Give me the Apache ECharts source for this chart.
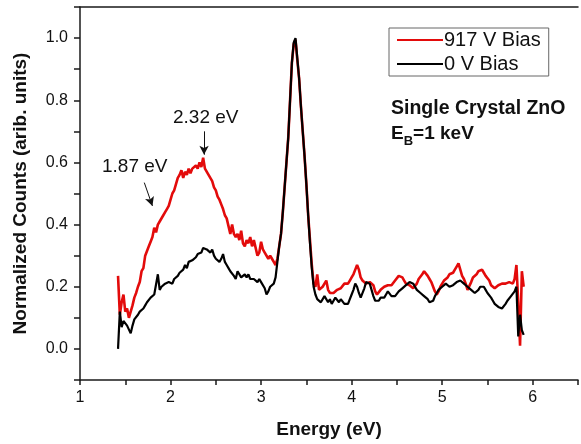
<!DOCTYPE html>
<html>
<head>
<meta charset="utf-8">
<script src="https://cdn.jsdelivr.net/npm/echarts@6/dist/echarts.min.js"></script>
<style>
html,body{margin:0;padding:0;background:#fff;}
#chart{width:581px;height:444px;}
</style>
</head>
<body>
<div id="chart"></div>
<script>
// Energy axis (eV)
const energy = [
1.42,1.44,1.46,1.48,1.50,1.52,1.54,1.56,1.58,1.60,
1.62,1.64,1.66,1.68,1.70,1.72,1.74,1.76,1.78,1.80,
1.82,1.84,1.86,1.88,1.90,1.92,1.94,1.96,1.98,2.00,
2.02,2.04,2.06,2.08,2.10,2.12,2.14,2.16,2.18,2.20,
2.22,2.24,2.26,2.28,2.30,2.32,2.34,2.36,2.38,2.40,
2.42,2.44,2.46,2.48,2.50,2.52,2.54,2.56,2.58,2.60,
2.62,2.64,2.66,2.68,2.70,2.72,2.74,2.76,2.78,2.80,
2.82,2.84,2.86,2.88,2.90,2.92,2.94,2.96,2.98,3.00,
3.02,3.04,3.06,3.08,3.10,3.12,3.14,3.16,3.18,3.20,
3.22,3.24,3.26,3.28,3.30,3.32,3.34,3.36,3.38,3.40,
3.42,3.44,3.46,3.48,3.50,3.52,3.54,3.56,3.58,3.60,
3.62,3.64,3.66,3.68,3.70,3.72,3.74,3.76,3.78,3.80,
3.82,3.84,3.86,3.88,3.90,3.92,3.94,3.96,3.98,4.00,
4.02,4.04,4.06,4.08,4.10,4.12,4.14,4.16,4.18,4.20,
4.22,4.24,4.26,4.28,4.30,4.32,4.34,4.36,4.38,4.40,
4.42,4.44,4.46,4.48,4.50,4.52,4.54,4.56,4.58,4.60,
4.62,4.64,4.66,4.68,4.70,4.72,4.74,4.76,4.78,4.80,
4.82,4.84,4.86,4.88,4.90,4.92,4.94,4.96,4.98,5.00,
5.02,5.04,5.06,5.08,5.10,5.12,5.14,5.16,5.18,5.20,
5.22,5.24,5.26,5.28,5.30,5.32,5.34,5.36,5.38,5.40,
5.42,5.44,5.46,5.48,5.50,5.52,5.54,5.56,5.58,5.60,
5.62,5.64,5.66,5.68,5.70,5.72,5.74,5.76,5.78,5.80,
5.82,5.84,5.86,5.88,5.90
];
// 917 V Bias
const bias917 = [
0.235,0.11,0.15,0.175,0.12,0.13,0.10,0.12,0.14,0.165,
0.18,0.20,0.215,0.25,0.26,0.30,0.30,0.33,0.345,0.36,
0.39,0.375,0.40,0.41,0.405,0.43,0.44,0.45,0.46,0.48,
0.50,0.51,0.53,0.55,0.56,0.575,0.55,0.57,0.56,0.58,
0.565,0.58,0.575,0.59,0.58,0.60,0.585,0.615,0.58,0.575,
0.56,0.555,0.54,0.52,0.51,0.49,0.48,0.465,0.45,0.43,
0.42,0.395,0.37,0.40,0.37,0.36,0.37,0.35,0.38,0.34,
0.33,0.35,0.34,0.36,0.33,0.35,0.345,0.30,0.31,0.345,
0.32,0.31,0.305,0.29,0.30,0.29,0.28,0.27,0.29,0.33,
0.37,0.44,0.52,0.60,0.68,0.80,0.92,0.98,0.995,0.93,
0.87,0.78,0.70,0.62,0.53,0.43,0.35,0.27,0.21,0.20,
0.24,0.19,0.185,0.20,0.21,0.22,0.19,0.18,0.175,0.18,
0.185,0.19,0.185,0.195,0.20,0.21,0.205,0.21,0.22,0.23,
0.24,0.255,0.27,0.255,0.23,0.22,0.215,0.21,0.205,0.215,
0.22,0.205,0.185,0.175,0.18,0.19,0.195,0.20,0.195,0.205,
0.21,0.205,0.21,0.22,0.225,0.235,0.24,0.23,0.22,0.21,
0.21,0.205,0.20,0.195,0.20,0.21,0.225,0.23,0.24,0.25,
0.25,0.235,0.225,0.215,0.20,0.185,0.175,0.185,0.20,0.21,
0.22,0.215,0.23,0.24,0.235,0.245,0.255,0.265,0.275,0.255,
0.235,0.225,0.21,0.19,0.195,0.215,0.23,0.235,0.24,0.25,
0.255,0.255,0.245,0.235,0.23,0.22,0.205,0.20,0.195,0.20,
0.205,0.20,0.21,0.205,0.21,0.205,0.215,0.22,0.21,0.225,
0.27,0.15,0.01,0.25,0.20
];
// 0 V Bias
const bias0 = [
0.0,0.12,0.07,0.09,0.085,0.075,0.08,0.05,0.075,0.095,
0.10,0.11,0.12,0.125,0.13,0.14,0.15,0.155,0.165,0.17,
0.175,0.18,0.24,0.19,0.20,0.195,0.21,0.205,0.215,0.22,
0.21,0.225,0.23,0.235,0.245,0.25,0.255,0.27,0.26,0.28,
0.275,0.285,0.29,0.295,0.305,0.30,0.31,0.325,0.33,0.32,
0.325,0.31,0.32,0.30,0.29,0.285,0.28,0.29,0.305,0.28,
0.27,0.26,0.25,0.245,0.235,0.225,0.25,0.245,0.23,0.235,
0.24,0.23,0.24,0.225,0.23,0.225,0.22,0.215,0.225,0.215,
0.21,0.195,0.175,0.185,0.20,0.205,0.21,0.23,0.28,0.33,
0.37,0.44,0.52,0.60,0.68,0.80,0.92,0.985,1.0,0.935,
0.87,0.78,0.70,0.62,0.53,0.43,0.34,0.26,0.20,0.175,
0.16,0.165,0.15,0.145,0.17,0.175,0.15,0.16,0.145,0.155,
0.165,0.16,0.15,0.16,0.155,0.145,0.15,0.145,0.16,0.175,
0.19,0.21,0.20,0.18,0.165,0.17,0.195,0.215,0.22,0.21,
0.19,0.17,0.155,0.15,0.155,0.165,0.17,0.165,0.175,0.185,
0.18,0.17,0.165,0.17,0.175,0.185,0.19,0.195,0.20,0.205,
0.21,0.215,0.22,0.21,0.20,0.19,0.185,0.18,0.175,0.17,
0.165,0.16,0.15,0.145,0.155,0.17,0.18,0.19,0.195,0.20,
0.205,0.21,0.205,0.20,0.20,0.205,0.21,0.215,0.22,0.22,
0.215,0.21,0.205,0.20,0.195,0.19,0.185,0.18,0.185,0.19,
0.20,0.205,0.20,0.19,0.18,0.175,0.165,0.155,0.145,0.14,
0.135,0.14,0.13,0.135,0.145,0.155,0.16,0.17,0.175,0.185,
0.20,0.04,0.11,0.06,0.045
];
const seriesNames = ['917 V Bias', '0 V Bias'];
const xTickLabels = ['1','2','3','4','5','6'];
const yTickLabels = ['0.0','0.2','0.4','0.6','0.8','1.0'];

const FONT = '"Liberation Sans", Arial, sans-serif';
const chart = echarts.init(document.getElementById('chart'), null, {renderer: 'canvas'});

const axisLineStyle = {color: '#1a1a1a', width: 1.5};

const option = {
  animation: false,
  backgroundColor: '#ffffff',
  grid: {left: 80, right: -1, top: 7, bottom: 64, containLabel: false},
  legend: {
    left: 389, top: 28,
    orient: 'vertical',
    data: seriesNames,
    icon: 'rect',
    itemWidth: 46, itemHeight: 2,
    itemGap: 4,
    borderColor: '#666', borderWidth: 1,
    padding: [2, 8, 2, 8],
    textStyle: {fontFamily: FONT, fontSize: 20, color: '#111', padding: [0,0,0,-4]}
  },
  xAxis: [{
    type: 'value', min: 1, max: 6.5, interval: 0.5,
    position: 'bottom',
    name: 'Energy (eV)', nameLocation: 'middle', nameGap: 40,
    nameTextStyle: {fontFamily: FONT, fontSize: 19, fontWeight: 'bold', color: '#111'},
    axisLine: {show: true, onZero: false, lineStyle: axisLineStyle},
    axisTick: {show: true, inside: false, length: 5, lineStyle: axisLineStyle},
    axisLabel: {
      fontFamily: FONT, fontSize: 16, color: '#111', margin: 10,
      formatter: v => {
        const k = Math.round(v);
        return Math.abs(v - k) < 1e-6 && xTickLabels.indexOf(String(k)) >= 0 ? String(k) : '';
      }
    },
    splitLine: {show: false}
  }, {
    type: 'value', min: 1, max: 6.5, position: 'top',
    axisLine: {show: true, onZero: false, lineStyle: axisLineStyle},
    axisTick: {show: false}, axisLabel: {show: false}, splitLine: {show: false}
  }],
  yAxis: {
    type: 'value', min: -0.1, max: 1.1, interval: 0.1,
    name: 'Normalized Counts (arib. units)', nameLocation: 'middle', nameGap: 50,
    nameTextStyle: {fontFamily: FONT, fontSize: 19, fontWeight: 'bold', color: '#111'},
    axisLine: {show: true, onZero: false, lineStyle: axisLineStyle},
    axisTick: {show: true, inside: false, length: 6, lineStyle: axisLineStyle},
    axisLabel: {
      fontFamily: FONT, fontSize: 16, color: '#111', margin: 12,
      formatter: v => {
        const k = Math.round(v * 10);
        const s = (k / 10).toFixed(1);
        return (k % 2 === 0 && yTickLabels.indexOf(s) >= 0) ? s : '';
      }
    },
    splitLine: {show: false}
  },
  series: [{
    name: seriesNames[0], type: 'line', showSymbol: false, symbol: 'none',
    data: energy.map((e, i) => [e, bias917[i]]),
    lineStyle: {color: '#e30b0b', width: 2.6},
    itemStyle: {color: '#e30b0b'},
    markLine: {
      silent: true, symbol: ['none', 'arrow'], symbolSize: [7, 9],
      label: {show: false},
      lineStyle: {color: '#111', width: 1, type: 'solid'},
      data: [
        [{coord: [2.37, 0.70]}, {coord: [2.37, 0.625]}],
        [{coord: [1.71, 0.535]}, {coord: [1.80, 0.46]}]
      ]
    }
  }, {
    name: seriesNames[1], type: 'line', showSymbol: false, symbol: 'none',
    data: energy.map((e, i) => [e, bias0[i]]),
    lineStyle: {color: '#000000', width: 2.2},
    itemStyle: {color: '#000000'}
  }],
  graphic: [
    {type: 'text', left: 173, top: 108, style: {text: '2.32 eV', font: '19px ' + FONT, fill: '#111'}},
    {type: 'text', left: 102, top: 157, style: {text: '1.87 eV', font: '19px ' + FONT, fill: '#111'}},
    {type: 'text', left: 391, top: 99, style: {text: 'Single Crystal ZnO', font: 'bold 19.5px ' + FONT, fill: '#111'}},
    {type: 'text', left: 391, top: 124, style: {
      text: '{a|E}{b|B}{a|=1 keV}',
      rich: {
        a: {fontFamily: FONT, fontSize: 19, fontWeight: 'bold', fill: '#111', lineHeight: 24, verticalAlign: 'top'},
        b: {fontFamily: FONT, fontSize: 13, fontWeight: 'bold', fill: '#111', lineHeight: 24, verticalAlign: 'bottom'}
      }
    }}
  ]
};
chart.setOption(option);
</script>
</body>
</html>
